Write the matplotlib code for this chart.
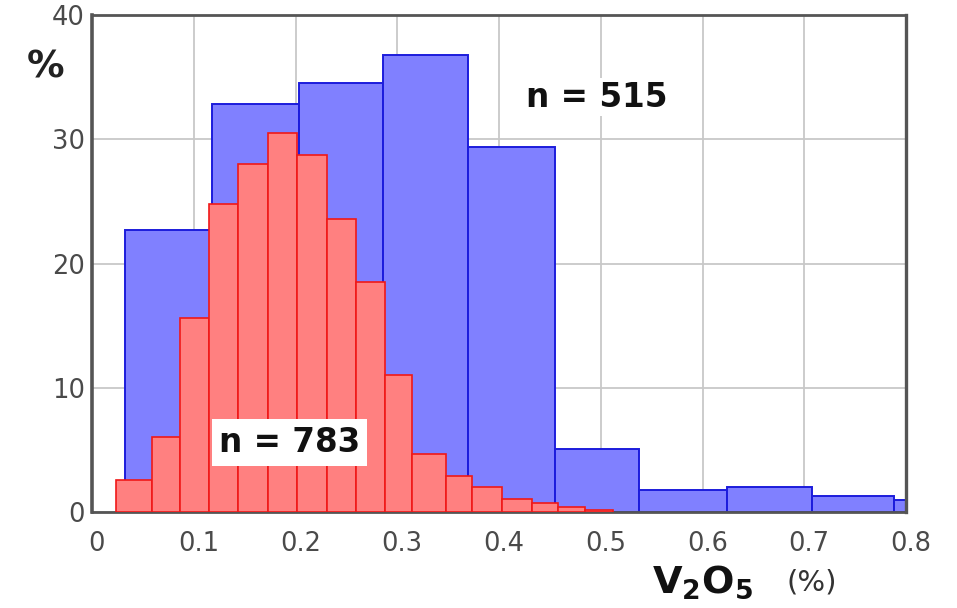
import numpy as np
import matplotlib
matplotlib.use("Agg")
import matplotlib.pyplot as plt
from matplotlib.transforms import ScaledTranslation

# ---- data ----
blue_edges = [0.0324, 0.1179, 0.2034, 0.2860, 0.3695, 0.4550, 0.5376, 0.6240, 0.7076, 0.7880, 0.8730]
blue_heights = [22.7, 32.8, 34.5, 36.8, 29.4, 5.05, 1.75, 2.05, 1.25, 0.95]

red_edges = [0.0236, 0.0590, 0.0865, 0.1150, 0.1435, 0.1730, 0.2015, 0.2310, 0.2595,
             0.2880, 0.3145, 0.3479, 0.3735, 0.4030, 0.4324, 0.4580, 0.4845, 0.5120]
red_heights = [2.6, 6.0, 15.6, 24.8, 28.0, 30.5, 28.7, 23.6, 18.5,
               11.0, 4.7, 2.9, 2.0, 1.05, 0.7, 0.4, 0.2]

x_ticks = [0, 0.1, 0.2, 0.3, 0.4, 0.5, 0.6, 0.7, 0.8]
x_ticklabels = ["0", "0.1", "0.2", "0.3", "0.4", "0.5", "0.6", "0.7", "0.8"]
y_ticks = [0, 10, 20, 30, 40]
y_ticklabels = ["0", "10", "20", "30", "40"]

label_blue = "n = 515"
label_red = "n = 783"

W, H = 957, 608
fig = plt.figure(figsize=(W / 100, H / 100), dpi=100)
ax = fig.add_axes([92 / W, 1 - 512 / H, (906 - 92) / W, (512 - 15) / H])

ax.set_xlim(0, 0.8)
ax.set_ylim(0, 40)

ax.set_axisbelow(True)
ax.grid(True, color="#c8c8c8", linewidth=1.3)

bl = np.array(blue_edges[:-1])
bw = np.diff(blue_edges)
ax.bar(bl, blue_heights, width=bw, align="edge", color="#8080ff",
       edgecolor="#1c1cdc", linewidth=1.4, zorder=2)

rl = np.array(red_edges[:-1])
rw = np.diff(red_edges)
ax.bar(rl, red_heights, width=rw, align="edge", color="#ff8080",
       edgecolor="#f01818", linewidth=1.2, zorder=3)

ax.set_xticks(x_ticks)
ax.set_xticklabels(x_ticklabels)
ax.set_yticks(y_ticks)
ax.set_yticklabels(y_ticklabels)
ax.tick_params(axis="both", length=0, labelsize=18.5, labelcolor="#4a4a4a")
ax.tick_params(axis="x", pad=14)
ax.tick_params(axis="y", pad=5)
offset = ScaledTranslation(5 / 100, 0, fig.dpi_scale_trans)
for lab in ax.get_xticklabels():
    lab.set_transform(lab.get_transform() + offset)

for s in ["left", "right", "top", "bottom"]:
    ax.spines[s].set_color("#555555")
    ax.spines[s].set_linewidth(2.0)
ax.spines["left"].set_linewidth(2.6)
ax.spines["right"].set_linewidth(2.4)

# annotations
ax.text(0.496, 33.4, label_blue, fontsize=23.5, fontweight="bold", color="#111111",
        ha="center", va="center", zorder=5,
        bbox=dict(facecolor="white", edgecolor="none", pad=2))
ax.text(0.1945, 5.6, label_red, fontsize=23.5, fontweight="bold", color="#111111",
        ha="center", va="center", zorder=5,
        bbox=dict(facecolor="white", edgecolor="none", pad=5))

# axis labels
fig.text(46 / W, 1 - 68 / H, "%", fontsize=27, fontweight="bold", color="#222222",
         ha="center", va="center")
fig.text(652 / W, 1 - 593 / H, r"$\mathbf{V_2O_5}$", fontsize=27.5, color="#111111",
         ha="left", va="baseline")
fig.text(812 / W, 1 - 582 / H, "(%)", fontsize=21, color="#333333",
         ha="center", va="center")

fig.savefig("out.png", dpi=100)
